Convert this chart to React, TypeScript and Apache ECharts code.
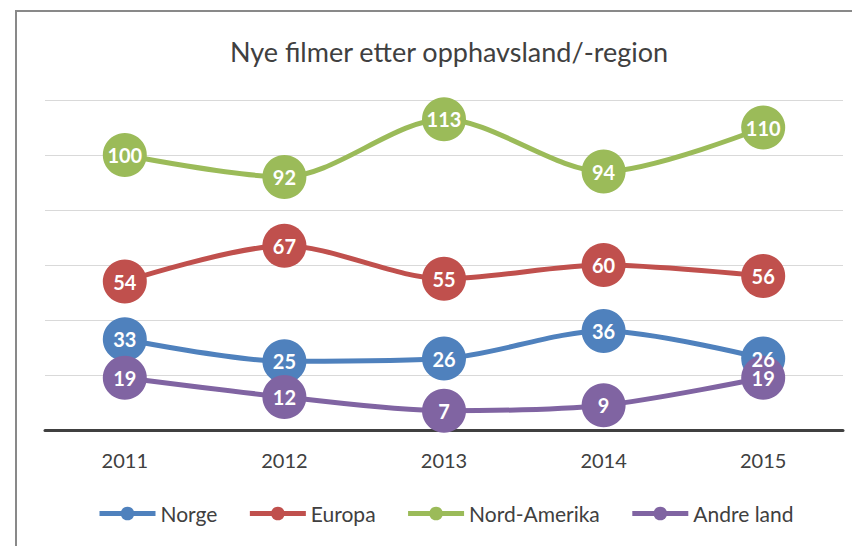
import React, { useEffect, useRef } from "react";
import * as echarts from "echarts";

const years = ["2011", "2012", "2013", "2014", "2015"];
const norge = [33, 25, 26, 36, 26];
const europa = [54, 67, 55, 60, 56];
const nordAmerika = [100, 92, 113, 94, 110];
const andreLand = [19, 12, 7, 9, 19];

const seriesNames = ["Norge", "Europa", "Nord-Amerika", "Andre land"];
const seriesColors = ["#4F81BD", "#C0504D", "#9BBB59", "#8064A2"];
const seriesData = [norge, europa, nordAmerika, andreLand];

const titleText = "Nye filmer etter opphavsland/-region";
const FONT = "Lato, 'Open Sans', sans-serif";

export default function App() {
  const ref = useRef<HTMLDivElement>(null);
  useEffect(() => {
    if (!ref.current) return;
    const chart = echarts.init(ref.current, undefined, { renderer: "svg" });
    chart.setOption({
      animation: false,
      backgroundColor: "#ffffff",
      textStyle: { fontFamily: FONT },
      title: {
        text: titleText,
        left: 444,
        textAlign: "center",
        top: 33,
        textStyle: { fontFamily: FONT, fontSize: 27, fontWeight: "normal", color: "#404040" },
      },
      graphic: [
        {
          type: "rect",
          shape: { x: 16, y: 11, width: 900, height: 600 },
          style: { fill: "none", stroke: "#898989", lineWidth: 2 },
          silent: true,
        },
      ],
      legend: {
        data: seriesNames,
        left: 97,
        top: 503,
        padding: 0,
        itemWidth: 56,
        itemHeight: 17,
        itemGap: 30,
        lineStyle: { width: 5 },
        textStyle: { fontFamily: FONT, fontSize: 21, color: "#404040" },
      },
      grid: { left: 45, right: 9, top: 100, bottom: 116, containLabel: false },
      xAxis: {
        type: "category",
        data: years,
        boundaryGap: true,
        axisLine: { show: true, lineStyle: { color: "#404040", width: 3 } },
        axisTick: { show: false },
        axisLabel: { fontFamily: FONT, fontSize: 20, color: "#404040", margin: 20 },
      },
      yAxis: {
        type: "value",
        min: 0,
        max: 120,
        interval: 20,
        axisLine: { show: false },
        axisTick: { show: false },
        axisLabel: { show: false },
        splitLine: { lineStyle: { color: "#d9d9d9", width: 1 } },
      },
      series: seriesNames.map((name, i) => ({
        name,
        type: "line",
        data: seriesData[i],
        smooth: 0.3,
        symbol: "circle",
        symbolSize: 44,
        color: seriesColors[i],
        lineStyle: { width: 5, color: seriesColors[i] },
        itemStyle: { color: seriesColors[i] },
        label: {
          show: true,
          position: "inside",
          color: "#ffffff",
          fontFamily: FONT,
          fontWeight: "bold",
          fontSize: 20,
        },
      })),
    });
    return () => chart.dispose();
  }, []);
  return (
    <div
      ref={ref}
      style={{ position: "fixed", left: 0, top: 0, width: 852, height: 546 }}
    />
  );
}
